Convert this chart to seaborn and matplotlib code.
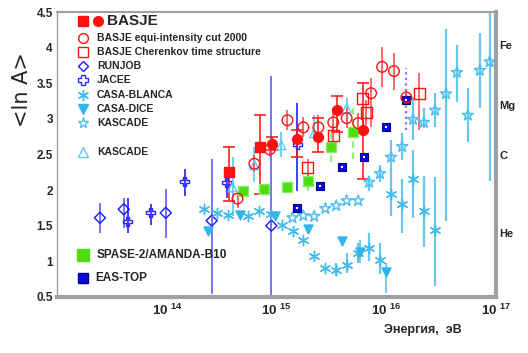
import numpy as np
import matplotlib
matplotlib.use('Agg')
import matplotlib.pyplot as plt
from matplotlib.ticker import MultipleLocator, LogLocator, FuncFormatter, NullFormatter
import seaborn as sns

# energy (eV), <ln A>, error bar bottom / top
runjob_e = [2.46e13, 4.06e13, 9.8e13, 2.57e14, 9.0e14]
runjob_lna = [1.61, 1.73, 1.68, 1.57, 1.50]
runjob_lo = [1.39, 1.47, 1.33, 0.54, 0.50]
runjob_hi = [1.82, 1.89, 2.02, 2.44, 3.60]

jacee_e = [4.42e13, 7.16e13, 1.46e14, 3.51e14, 1.55e15]
jacee_lna = [1.56, 1.68, 2.12, 2.11, 2.64]
jacee_lo = [1.39, 1.51, 1.91, 1.89, 1.99]
jacee_hi = [1.89, 1.81, 2.30, 2.20, 3.22]

cb_e = [2.21e14, 2.85e14, 3.59e14, 5.56e14, 7.0e14, 9.0e14, 1.13e15, 1.41e15, 1.76e15, 2.21e15,
        2.79e15, 3.51e15, 4.37e15, 5.56e15, 7.0e15, 8.8e15, 1.11e16, 1.40e16, 1.76e16, 2.21e16, 2.79e16]
cb_lna = [1.73, 1.68, 1.65, 1.63, 1.70, 1.67, 1.51, 1.42, 1.30, 1.08,
          0.91, 0.88, 0.95, 1.12, 1.19, 1.02, 1.95, 1.81, 2.15, 1.70, 1.44]
cb_lo = [1.73, 1.68, 1.65, 1.63, 1.70, 1.67, 1.51, 1.42, 1.30, 1.08,
         0.91, 0.80, 0.84, 0.98, 1.01, 0.82, 1.64, 1.40, 1.61, 1.20, 0.65]
cb_hi = [1.73, 1.68, 1.65, 1.63, 1.70, 1.67, 1.51, 1.42, 1.30, 1.08,
         0.91, 0.98, 1.11, 1.25, 1.39, 1.25, 2.25, 2.16, 2.56, 2.20, 2.18]

dice_e = [2.36e14, 4.61e14, 9.8e14, 1.93e15, 3.94e15, 5.8e15, 1.0e16]
dice_lna = [1.43, 1.65, 1.64, 1.46, 1.29, 1.13, 0.85]
dice_lo = [1.43, 1.65, 1.64, 1.46, 1.29, 0.98, 0.55]
dice_hi = [1.43, 1.65, 1.64, 1.46, 1.29, 1.30, 0.98]

ks_e = [1.40e15, 1.76e15, 2.21e15, 2.79e15, 3.51e15, 4.37e15, 5.56e15, 7.0e15, 8.8e15, 1.11e16,
        1.40e16, 1.76e16, 2.21e16, 2.79e16, 3.51e16, 4.42e16, 5.56e16, 7.16e16, 8.8e16]
ks_lna = [1.61, 1.64, 1.63, 1.74, 1.78, 1.85, 1.85, 2.11, 2.23, 2.46,
          2.61, 2.99, 2.95, 3.12, 3.35, 3.65, 3.05, 3.68, 3.80]
ks_lo = [1.61, 1.64, 1.63, 1.74, 1.78, 1.85, 1.85, 1.98, 2.11, 2.25,
         2.42, 2.70, 2.87, 2.88, 1.57, 3.23, 2.67, 3.15, 2.13]
ks_hi = [1.61, 1.64, 1.63, 1.74, 1.78, 1.85, 1.85, 2.20, 2.35, 2.70,
         2.80, 3.30, 3.15, 3.36, 4.26, 4.04, 3.43, 4.20, 4.49]

kt_e = [3.98e14, 6.3e14, 1.11e15, 2.21e15, 4.37e15]
kt_lna = [2.04, 2.35, 2.63, 2.80, 3.15]
kt_lo = [1.64, 2.11, 2.46, 2.73, 2.94]
kt_hi = [2.46, 2.60, 2.81, 3.05, 3.29]

bsq_e = [3.66e14, 7.16e14]
bsq_lna = [2.26, 2.61]
bsq_lo = [1.84, 1.95]
bsq_hi = [2.60, 3.06]

bci_e = [9.2e14, 1.55e15, 2.41e15, 3.59e15, 6.1e15]
bci_lna = [2.64, 2.71, 2.74, 3.12, 2.84]
bci_lo = [2.56, 2.47, 2.53, 2.82, 2.16]
bci_hi = [2.74, 2.84, 3.01, 3.32, 3.51]

eq_e = [4.42e14, 6.3e14, 8.7e14, 1.26e15, 1.76e15, 2.41e15, 3.3e15, 4.37e15, 5.56e15, 7.3e15,
        9.2e15, 1.18e16, 1.53e16]
eq_lna = [1.88, 2.37, 2.57, 2.98, 2.88, 2.88, 2.95, 3.01, 2.94, 3.36, 3.73, 3.67, 3.30]
eq_lo = [1.75, 2.25, 2.47, 2.84, 2.74, 2.73, 2.81, 2.87, 2.80, 2.88, 3.44, 3.40, 3.20]
eq_hi = [1.96, 2.49, 2.67, 3.12, 3.02, 3.05, 3.09, 3.15, 3.08, 3.58, 4.01, 3.92, 3.40]

ch_e = [1.93e15, 3.3e15, 6.1e15, 6.58e15, 2.0e16]
ch_lna = [2.32, 2.77, 3.29, 3.09, 3.35]
ch_lo = [2.17, 2.56, 3.15, 2.92, 2.84]
ch_hi = [2.44, 2.91, 3.47, 3.26, 3.64]

sp_e = [4.91e14, 7.78e14, 1.26e15, 1.93e15, 3.16e15, 5.01e15]
sp_lna = [1.98, 2.01, 2.04, 2.13, 2.61, 2.82]
sp_lo = [1.98, 2.01, 2.04, 1.99, 2.40, 2.44]
sp_hi = [1.98, 2.01, 2.04, 2.27, 2.80, 3.22]

et_e = [1.55e15, 2.51e15, 3.94e15, 6.31e15, 1.0e16, 1.53e16]
et_lna = [1.75, 2.05, 2.33, 2.46, 2.88, 3.27]
et_lo = [1.72, 2.02, 2.30, 2.43, 2.85, 2.85]
et_hi = [1.78, 2.08, 2.36, 2.49, 2.91, 3.71]

elements = ['Fe', 'Mg', 'C', 'He']
masses = [56, 24, 12, 4]

RED = '#ff1010'
CYAN = '#40bbee'
GREEN = '#50dd10'

sns.set_style('white')
plt.rcParams['font.family'] = ['Liberation Sans', 'DejaVu Sans']
plt.rcParams['font.weight'] = 'bold'
plt.rcParams['mathtext.fontset'] = 'custom'
plt.rcParams['mathtext.rm'] = 'Liberation Sans:bold'
plt.rcParams['mathtext.bf'] = 'Liberation Sans:bold'

fig = plt.figure(figsize=(5.28, 3.53), dpi=100)
ax = fig.add_axes([0.108, 0.159, 0.831, 0.807])
ax.set_xscale('log')


def errs(e, lna, lo, hi, color, ls='-', lw=1.2, caps=0):
    lna = np.array(lna)
    if caps:
        ax.errorbar(e, lna, yerr=[lna - np.array(lo), np.array(hi) - lna], fmt='none',
                    ecolor=color, elinewidth=lw, capsize=caps, capthick=lw, zorder=2)
    else:
        ax.vlines(e, lo, hi, colors=color, linestyles=ls, lw=lw, zorder=2)


def pts(e, lna, marker, color, s, open_=False, lw=1.0, edge=None):
    if open_:
        sns.scatterplot(x=e, y=lna, ax=ax, marker=marker, s=s, facecolors='none',
                        edgecolor=color, linewidth=lw, zorder=4)
    else:
        sns.scatterplot(x=e, y=lna, ax=ax, marker=marker, s=s, color=color,
                        edgecolor=edge if edge else color, linewidth=lw, zorder=4)


# error bars
errs(runjob_e, runjob_lna, runjob_lo, runjob_hi, '#6a6aff', lw=1.3)
errs(jacee_e, jacee_lna, jacee_lo, jacee_hi, '#3333ff', lw=1.3)
errs(cb_e, cb_lna, cb_lo, cb_hi, '#66c8f0', lw=1.6)
errs(dice_e, dice_lna, dice_lo, dice_hi, '#66c8f0', lw=1.3)
errs(ks_e, ks_lna, ks_lo, ks_hi, '#66c8f0', lw=1.6)
errs(kt_e, kt_lna, kt_lo, kt_hi, '#66ccf4', lw=1.3)
errs(sp_e, sp_lna, sp_lo, sp_hi, '#99ee77', ls=(0, (3, 2)), lw=1.6)
errs(et_e, et_lna, et_lo, et_hi, '#7777ff', ls=(0, (1, 1.5)), lw=1.6)
errs(bsq_e, bsq_lna, bsq_lo, bsq_hi, RED, lw=1.1, caps=4)
errs(bci_e, bci_lna, bci_lo, bci_hi, RED, lw=1.1, caps=4)
errs(eq_e, eq_lna, eq_lo, eq_hi, '#ff4040', lw=1.1)
errs(ch_e, ch_lna, ch_lo, ch_hi, '#ff4040', lw=1.1)

# markers
pts(runjob_e, runjob_lna, 'D', '#1a1aff', 32, open_=True, lw=1.0)
pts(jacee_e, jacee_lna, 'P', '#2a2aff', 45, open_=True, lw=1.0)
pts(cb_e, cb_lna, (6, 2, 0), CYAN, 55, lw=1.0)
pts(dice_e, dice_lna, 'v', '#33b5ea', 42)
pts(ks_e, ks_lna, '*', '#50bff0', 70, open_=True, lw=1.1)
pts(kt_e, kt_lna, '^', '#55ccff', 42, open_=True, lw=1.0)
pts(sp_e, sp_lna, 's', GREEN, 50, edge='#88ee66')
pts(et_e, et_lna, 's', '#0a0ae0', 40, edge='#000090', lw=0.8)
pts(et_e, et_lna, 's', 'white', 4, lw=0)
pts(bsq_e, bsq_lna, 's', RED, 50)
pts(bci_e, bci_lna, 'o', RED, 50)
pts(eq_e, eq_lna, 'o', RED, 58, open_=True, lw=1.0)
pts(ch_e, ch_lna, 's', RED, 62, open_=True, lw=1.0)

ax.set_xlim(1e13, 1e17)
ax.set_ylim(0.5, 4.5)

ax.xaxis.set_major_locator(LogLocator(base=10))
ax.xaxis.set_minor_locator(LogLocator(base=10, subs=np.arange(2, 10)))
ax.xaxis.set_major_formatter(FuncFormatter(
    lambda v, p: '10$^{\\ %d}$' % round(np.log10(v)) if v > 2e13 else ''))
ax.xaxis.set_minor_formatter(NullFormatter())
ax.yaxis.set_major_locator(MultipleLocator(0.5))
ax.yaxis.set_minor_locator(MultipleLocator(0.1))
ax.yaxis.set_major_formatter(FuncFormatter(lambda v, p: '%g' % v))
ax.tick_params(which='major', direction='in', length=8, width=1, color='#777777',
               labelsize=8.5, pad=3)
ax.tick_params(which='minor', direction='in', length=4, width=1, color='#555555')
ax.tick_params(axis='x', which='major', labelsize=9.5, pad=4)

for side, lw in [('top', 1.5), ('left', 1.0), ('right', 3.0), ('bottom', 3.0)]:
    ax.spines[side].set_color('#a0a0a0')
    ax.spines[side].set_linewidth(lw)
    ax.spines[side].set_visible(True)

# element labels on the right
for name, m in zip(elements, masses):
    ax.text(1.008, np.log(m), name, transform=ax.get_yaxis_transform(),
            fontsize=8, va='center', ha='left')


# hand-placed legend (axes fraction)
def leg(y, label, x=0.091, size=7.5):
    ax.text(x, y, label, transform=ax.transAxes, fontsize=size, va='center', ha='left')


def legm(x, y, marker, color, ms, open_=False, mew=1.0, edge=None):
    ax.plot([x], [y], marker=marker, ms=ms, transform=ax.transAxes, ls='none',
            mfc='none' if open_ else color, mec=edge if edge else color, mew=mew,
            clip_on=False, zorder=6)


legm(0.059, 0.968, 's', RED, 7)
legm(0.093, 0.968, 'o', RED, 7)
leg(0.968, 'BASJE', x=0.114, size=11)
legm(0.059, 0.909, 'o', RED, 7, open_=True)
leg(0.909, 'BASJE equi-intensity cut 2000')
legm(0.059, 0.860, 's', RED, 7, open_=True)
leg(0.860, 'BASJE Cherenkov time structure')
legm(0.059, 0.811, 'D', '#1a1aff', 5.5, open_=True)
leg(0.811, 'RUNJOB')
legm(0.059, 0.761, 'P', '#2a2aff', 7, open_=True)
leg(0.761, 'JACEE')
legm(0.059, 0.709, (6, 2, 0), CYAN, 8)
leg(0.709, 'CASA-BLANCA')
legm(0.059, 0.660, 'v', '#33b5ea', 7)
leg(0.660, 'CASA-DICE')
legm(0.059, 0.611, '*', '#50bff0', 8, open_=True)
leg(0.611, 'KASCADE')
legm(0.059, 0.509, '^', '#55ccff', 7, open_=True)
leg(0.509, 'KASCADE')
legm(0.059, 0.147, 's', GREEN, 8)
leg(0.147, 'SPASE-2/AMANDA-B10', x=0.091, size=8.5)
legm(0.059, 0.067, 's', '#0a0ae0', 7, edge='#000090')
leg(0.067, 'EAS-TOP', x=0.087, size=8.5)

fig.text(0.042, 0.745, '<ln A>', rotation=90, ha='center', va='center',
         fontsize=15, fontweight='normal', family='DejaVu Sans')
fig.text(0.801, 0.065, 'Энергия,  эВ', ha='center', va='center', fontsize=9)

fig.savefig('out.png', dpi=100)
